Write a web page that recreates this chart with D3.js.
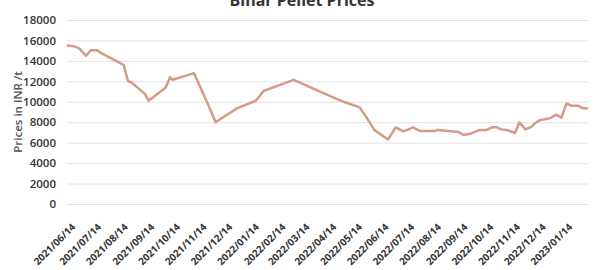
<!DOCTYPE html>
<meta charset="utf-8">
<style>
    * {
        margin: 0px;
    }
    body {
        background: #fff;
    }
    text {
        font-family: "Open Sans", sans-serif;
    }
</style>
<svg width="604" height="270"></svg>
<script src="https://d3js.org/d3.v7.min.js"></script>
<script>
    // price series
    var dates = ["2021-06-14","2021-06-21","2021-06-28","2021-07-06","2021-07-12","2021-07-19","2021-07-24",
        "2021-08-19","2021-08-24","2021-08-28","2021-09-13","2021-09-17","2021-10-07","2021-10-12","2021-10-15",
        "2021-11-09","2021-11-29","2021-12-04","2021-12-29","2022-01-20","2022-01-29","2022-03-05","2022-04-22",
        "2022-05-04","2022-05-21","2022-05-31","2022-06-07","2022-06-23","2022-07-02","2022-07-11","2022-07-22",
        "2022-07-30","2022-08-17","2022-08-20","2022-09-13","2022-09-19","2022-09-28","2022-10-08","2022-10-16",
        "2022-10-22","2022-10-28","2022-11-02","2022-11-08","2022-11-18","2022-11-23","2022-11-30","2022-12-07",
        "2022-12-11","2022-12-17","2022-12-29","2023-01-05","2023-01-11","2023-01-17","2023-01-23","2023-01-31",
        "2023-02-04","2023-02-11"];
    var prices = [15500,15450,15250,14500,15050,15050,14750,
        13600,12050,11900,10750,10100,11400,12400,12150,
        12800,9050,8000,9350,10100,11050,12150,10350,
        9950,9450,8200,7250,6300,7500,7100,7500,
        7150,7150,7250,7050,6750,6900,7250,7250,
        7500,7500,7300,7250,6950,8000,7300,7550,
        7900,8200,8400,8750,8450,9850,9600,9600,
        9400,9350];
    var tickLabels = ["2021/06/14","2021/07/14","2021/08/14","2021/09/14","2021/10/14","2021/11/14","2021/12/14",
        "2022/01/14","2022/02/14","2022/03/14","2022/04/14","2022/05/14","2022/06/14","2022/07/14","2022/08/14",
        "2022/09/14","2022/10/14","2022/11/14","2022/12/14","2023/01/14"];
    var yTicks = [0,2000,4000,6000,8000,10000,12000,14000,16000,18000];

    var svg = d3.select("svg"),
        margin = {top: 20, right: 16, bottom: 66, left: 67},
        width = 604 - margin.left - margin.right,
        height = 270 - margin.top - margin.bottom;

    var parse = d3.timeParse("%Y-%m-%d"),
        parseTick = d3.timeParse("%Y/%m/%d");
    var data = dates.map(function(d, i) { return {date: parse(d), value: prices[i]}; });

    var x = d3.scaleTime()
        .domain([parse("2021-06-14"), parse("2023-02-11")])
        .range([0, width]);
    var y = d3.scaleLinear()
        .domain([0, 18000])
        .range([height, 0]);

    var g = svg.append("g")
        .attr("transform", "translate(" + margin.left + "," + margin.top + ")");

    // title, mostly cut off by the top edge like in the source
    svg.append("text")
        .attr("x", 302)
        .attr("y", 6)
        .attr("text-anchor", "middle")
        .style("font-size", "16px")
        .style("font-weight", "bold")
        .style("fill", "#333")
        .text("Bihar Pellet Prices");

    var yAxis = g.append("g")
        .call(d3.axisLeft(y).tickValues(yTicks).tickFormat(d3.format("d")).tickSize(-width).tickPadding(11));
    yAxis.select(".domain").remove();
    yAxis.selectAll("line").attr("stroke", "#e3e3e3");
    yAxis.selectAll("text")
        .style("font-size", "11.5px")
        .style("font-weight", "600")
        .style("fill", "#333");

    var xAxis = g.append("g")
        .attr("transform", "translate(0," + height + ")")
        .call(d3.axisBottom(x)
            .tickValues(tickLabels.map(parseTick))
            .tickFormat(d3.timeFormat("%Y/%m/%d"))
            .tickSize(0));
    xAxis.select(".domain").remove();
    xAxis.selectAll("text")
        .attr("text-anchor", "end")
        .attr("dy", "0.35em")
        .attr("transform", "translate(4,19) rotate(-45)")
        .style("font-size", "10px")
        .style("font-weight", "bold")
        .style("fill", "#333");

    svg.append("text")
        .attr("transform", "translate(18," + (margin.top + height / 2) + ") rotate(-90)")
        .attr("text-anchor", "middle")
        .attr("dy", "0.35em")
        .style("font-size", "11.5px")
        .style("font-weight", "600")
        .style("fill", "#555")
        .text("Prices in INR /t");

    var line = d3.line()
        .x(function(d) { return x(d.date); })
        .y(function(d) { return y(d.value); });

    g.append("path")
        .datum(data)
        .attr("fill", "none")
        .attr("stroke", "#d59a88")
        .attr("stroke-width", 2.5)
        .attr("stroke-linejoin", "round")
        .attr("d", line);
</script>
